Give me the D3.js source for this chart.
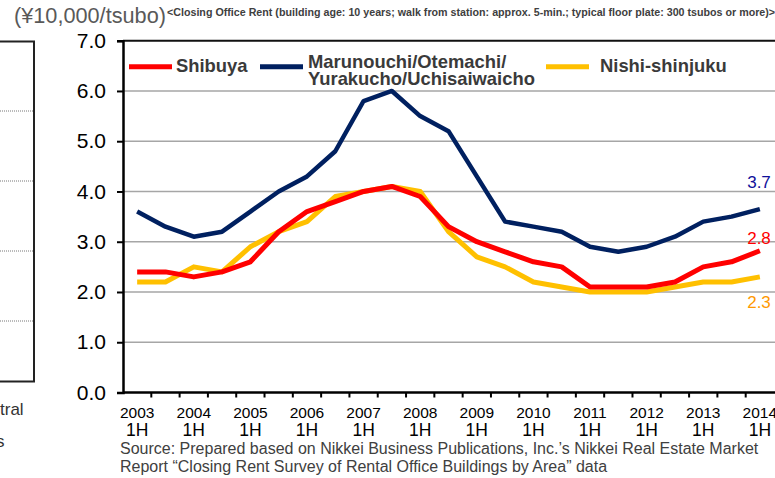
<!DOCTYPE html>
<html>
<head>
<meta charset="utf-8">
<script src="https://cdn.jsdelivr.net/npm/d3@7"></script>
<style>
  body { margin: 0; background: #fff; }
  svg { display: block; font-family: "Liberation Sans", Arial, sans-serif; }
</style>
</head>
<body>
<svg id="chart" width="775" height="478"></svg>
<script>
// half-year periods, 2003 1H .. 2014 1H
const periods = ["2003 1H","2003 2H","2004 1H","2004 2H","2005 1H","2005 2H","2006 1H","2006 2H",
  "2007 1H","2007 2H","2008 1H","2008 2H","2009 1H","2009 2H","2010 1H","2010 2H",
  "2011 1H","2011 2H","2012 1H","2012 2H","2013 1H","2013 2H","2014 1H"];

const shibuya    = [2.4,2.4,2.3,2.4,2.6,3.2,3.6,3.8,4.0,4.1,3.9,3.3,3.0,2.8,2.6,2.5,2.1,2.1,2.1,2.2,2.5,2.6,2.82];
const marunouchi = [3.6,3.3,3.1,3.2,3.6,4.0,4.3,4.8,5.8,6.0,5.5,5.2,4.3,3.4,3.3,3.2,2.9,2.8,2.9,3.1,3.4,3.5,3.65];
const nishi      = [2.2,2.2,2.5,2.4,2.9,3.2,3.4,3.9,4.0,4.1,4.0,3.2,2.7,2.5,2.2,2.1,2.0,2.0,2.0,2.1,2.2,2.2,2.3];

const yTicks = [0,1,2,3,4,5,6,7];
const endLabels = ["3.7","2.8","2.3"];

const series = [
  {name: "Marunouchi", values: marunouchi, color: "#002060", width: 4.5, label: endLabels[0], labelColor: "#10109a", labelY: 188},
  {name: "Nishi-shinjuku", values: nishi, color: "#ffc000", width: 5, label: endLabels[2], labelColor: "#ff9900", labelY: 308},
  {name: "Shibuya", values: shibuya, color: "#ff0000", width: 5, label: endLabels[1], labelColor: "#ff0000", labelY: 244}
];

const svg = d3.select("#chart");

const x = d3.scaleBand().domain(periods).range([123, 774]);
const y = d3.scaleLinear().domain([0, 7]).range([392.5, 40.7]);

// left partial panel (cut off)
const left = svg.append("g");
[111, 181, 251, 321].forEach(gy => {
  left.append("line").attr("x1", 0).attr("x2", 34).attr("y1", gy).attr("y2", gy)
    .attr("stroke", "#777").attr("stroke-width", 1).attr("stroke-dasharray", "1,1");
});
left.append("path").attr("d", "M0,41.5 H34 V381.5 H0")
  .attr("fill", "none").attr("stroke", "#222").attr("stroke-width", 2);
left.append("text").attr("x", 0).attr("y", 415).attr("font-size", 17).attr("fill", "#333").text("tral");
left.append("text").attr("x", -4).attr("y", 447).attr("font-size", 17).attr("fill", "#333").text("s");

// titles
svg.append("text").attr("x", 14).attr("y", 23).attr("font-size", 21.7).attr("fill", "#595959")
  .text("(¥10,000/tsubo)");
svg.append("text").attr("x", 167).attr("y", 15.5).attr("font-size", 10.7).attr("font-weight", "bold")
  .attr("fill", "#404040")
  .text("<Closing Office Rent (building age: 10 years; walk from station: approx. 5-min.; typical floor plate: 300 tsubos or more)>");

// gridlines
svg.append("g").selectAll("line").data(yTicks.filter(d => d > 0 && d < 7)).join("line")
  .attr("x1", 123).attr("x2", 775)
  .attr("y1", d => y(d)).attr("y2", d => y(d))
  .attr("stroke", "#a6a6a6").attr("stroke-width", 1.5);

// top border
svg.append("line").attr("x1", 123).attr("x2", 775).attr("y1", y(7)).attr("y2", y(7))
  .attr("stroke", "#111").attr("stroke-width", 2);

// y axis
const yAxis = svg.append("g").attr("transform", "translate(123,0)")
  .call(d3.axisLeft(y).tickValues(yTicks).tickSize(6).tickPadding(11).tickFormat(d3.format(".1f")));
yAxis.select(".domain").attr("stroke", "#000").attr("stroke-width", 2.5);
yAxis.selectAll(".tick line").attr("stroke", "#000").attr("stroke-width", 2);
yAxis.selectAll(".tick text").attr("font-size", 21).attr("fill", "#000")
  .attr("font-family", "Liberation Sans, Arial, sans-serif");

// x axis with ticks at band boundaries
const bounds = periods.map(p => x(p));
const xg = svg.append("g");
xg.append("line").attr("x1", 123).attr("x2", 775).attr("y1", y(0)).attr("y2", y(0))
  .attr("stroke", "#000").attr("stroke-width", 2.5);
xg.selectAll("line.tk").data(bounds.slice(1)).join("line").attr("class", "tk")
  .attr("x1", d => d).attr("x2", d => d).attr("y1", y(0)).attr("y2", y(0) + 5)
  .attr("stroke", "#000").attr("stroke-width", 2);

const firstHalves = periods.filter(p => p.endsWith("1H"));
const labels = xg.selectAll("g.lbl").data(firstHalves).join("g").attr("class", "lbl")
  .attr("transform", d => `translate(${x(d) + x.bandwidth() / 2},0)`);
labels.append("text").attr("y", 418).attr("text-anchor", "middle").attr("font-size", 15.5)
  .attr("fill", "#000").text(d => d.split(" ")[0]);
labels.append("text").attr("y", 436).attr("text-anchor", "middle").attr("font-size", 17.5)
  .attr("fill", "#000").text(d => d.split(" ")[1]);

// lines
const line = d3.line().x((d, i) => x(periods[i]) + x.bandwidth() / 2).y(d => y(d));
svg.append("g").selectAll("path").data(series).join("path")
  .attr("d", d => line(d.values))
  .attr("fill", "none")
  .attr("stroke", d => d.color)
  .attr("stroke-width", d => d.width)
  .attr("stroke-linejoin", "round");

// end labels
svg.append("g").selectAll("text").data(series).join("text")
  .attr("x", 759).attr("y", d => d.labelY).attr("text-anchor", "middle")
  .attr("font-size", 17).attr("fill", d => d.labelColor).text(d => d.label);

// legend
const legend = svg.append("g").attr("font-weight", "bold").attr("font-size", 18.4).attr("fill", "#3a3a3a");
const legendItems = [
  {x1: 129, x2: 172, color: "#ff0000", lines: ["Shibuya"], tx: 176},
  {x1: 260, x2: 303, color: "#002060", lines: ["Marunouchi/Otemachi/", "Yurakucho/Uchisaiwaicho"], tx: 308},
  {x1: 546, x2: 589, color: "#ffc000", lines: ["Nishi-shinjuku"], tx: 600}
];
legendItems.forEach(it => {
  legend.append("line").attr("x1", it.x1).attr("x2", it.x2).attr("y1", 66.7).attr("y2", 66.7)
    .attr("stroke", it.color).attr("stroke-width", 5);
  const t = legend.append("text").attr("x", it.tx).attr("y", it.lines.length > 1 ? 68 : 72);
  it.lines.forEach((l, i) => t.append("tspan").attr("x", it.tx).attr("dy", i ? 17 : 0).text(l));
});

// source
const src = svg.append("text").attr("font-size", 16).attr("fill", "#404040");
src.append("tspan").attr("x", 120).attr("y", 454)
  .text("Source: Prepared based on Nikkei Business Publications, Inc.\u2019s Nikkei Real Estate Market");
src.append("tspan").attr("x", 120).attr("y", 472)
  .text("Report \u201cClosing Rent Survey of Rental Office Buildings by Area\u201d data");
</script>
</body>
</html>
